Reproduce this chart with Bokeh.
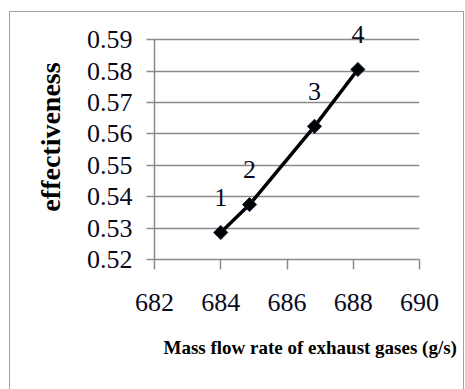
import numpy as np
from bokeh.plotting import figure
from bokeh.models import FixedTicker, Title, ColumnDataSource, LabelSet
from bokeh.embed import file_html
from bokeh.resources import INLINE

# data
mass_flow = [684.0, 684.87, 686.83, 688.14]
effectiveness = [0.5286, 0.5375, 0.5624, 0.5805]
point_labels = ["1", "2", "3", "4"]

x_ticks = [682, 684, 686, 688, 690]
y_ticks = [0.52, 0.53, 0.54, 0.55, 0.56, 0.57, 0.58, 0.59]
y_tick_labels = ["0.52", "0.53", "0.54", "0.55", "0.56", "0.57", "0.58", "0.59"]

FONT = "'Liberation Serif', 'Times New Roman', serif"
GRID = "#8a8a8a"

# y range extends a little above 0.59 so the top point label is not clipped;
# the axis line itself is bounded to 0.52-0.59
p = figure(width=453, height=377, x_range=(682, 690), y_range=(0.52, 0.598),
           output_backend="svg", toolbar_location=None,
           min_border_left=144, min_border_right=44, min_border_top=2, min_border_bottom=130)
p.margin = (12, 0, 0, 10)
p.styles = {"outline": "1px solid #a0a0a0"}
p.outline_line_color = None
p.background_fill_color = "white"
p.border_fill_color = "white"

# axes
p.xaxis.ticker = FixedTicker(ticks=x_ticks)
p.yaxis.ticker = FixedTicker(ticks=y_ticks)
p.yaxis.bounds = (0.52, 0.59)
p.yaxis.major_label_overrides = {t: s for t, s in zip(y_ticks, y_tick_labels)}
for ax in (p.xaxis, p.yaxis):
    ax.axis_line_color = GRID
    ax.axis_line_width = 1.5
    ax.major_tick_line_color = GRID
    ax.major_tick_line_width = 1.5
    ax.major_tick_in = 0
    ax.minor_tick_line_color = None
    ax.major_label_text_font = FONT
    ax.major_label_text_font_size = "26px"
    ax.major_label_text_color = "#0a0a1e"
p.xaxis.major_tick_out = 10
p.yaxis.major_tick_out = 8
p.xaxis.major_label_standoff = 24
p.yaxis.major_label_standoff = 14

p.yaxis.axis_label = "effectiveness"
p.yaxis.axis_label_text_font = FONT
p.yaxis.axis_label_text_font_style = "bold"
p.yaxis.axis_label_text_font_size = "28px"
p.yaxis.axis_label_text_color = "black"
p.yaxis.axis_label_standoff = 18

p.xgrid.grid_line_color = None
p.ygrid.grid_line_color = GRID
p.ygrid.grid_line_width = 1.5

xt = Title(text="Mass flow rate of exhaust gases (g/s)", align="left", offset=9,
           text_font=FONT, text_font_style="bold", text_font_size="19px",
           text_color="black", standoff=42)
p.add_layout(xt, "below")

src = ColumnDataSource(dict(x=mass_flow, y=effectiveness, lab=point_labels))
p.line("x", "y", source=src, line_color="black", line_width=3.5)
p.scatter("x", "y", source=src, marker="square", size=10, angle=np.pi / 4,
          fill_color="black", line_color="#102040", line_width=1)
labels = LabelSet(x="x", y="y", text="lab", source=src, y_offset=35,
                  text_align="center", text_baseline="middle", text_font=FONT,
                  text_font_size="26px", text_color="#0a0a1e")
p.add_layout(labels)

open("out.html", "w").write(file_html(p, INLINE))
